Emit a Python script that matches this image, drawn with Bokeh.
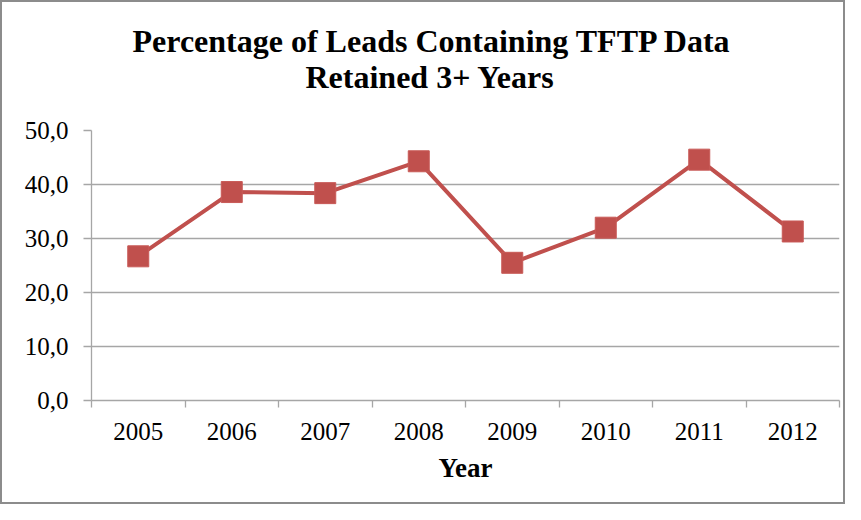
from bokeh.plotting import figure
from bokeh.models import Range1d, FixedTicker, CustomJSTickFormatter, ColumnDataSource, Title
from bokeh.embed import file_html
from bokeh.resources import INLINE

years = ["2005", "2006", "2007", "2008", "2009", "2010", "2011", "2012"]
values = [26.7, 38.6, 38.4, 44.3, 25.5, 32.0, 44.6, 31.3]
y_ticks = [0, 10, 20, 30, 40, 50]
title_lines = ["Percentage of Leads Containing TFTP Data", "Retained 3+ Years"]

xs = [i + 0.5 for i in range(len(years))]
src = ColumnDataSource(dict(x=xs, y=values, year=years))

FONT = "Liberation Serif"
GRAY = "#a6a6a6"
RED = "#C0504D"

p = figure(width=845, height=504, output_backend="svg", toolbar_location=None,
           x_range=Range1d(0, len(years)), y_range=Range1d(0, 50),
           min_border_left=89, min_border_right=8, min_border_top=128,
           min_border_bottom=106)
p.styles = {"border": "2px solid #8c8c8c"}

def style_title(t, offset):
    t.align = "left"
    t.offset = offset
    t.text_font = FONT
    t.text_font_size = "32px"
    t.text_font_style = "bold"
    t.text_color = "black"

# p.title is stacked farther from the frame than added titles
p.title.text = title_lines[0]
style_title(p.title, 41)
p.title.standoff = -76
t2 = Title(text=title_lines[1])
style_title(t2, 214)
t2.standoff = 72
p.add_layout(t2, "above")

p.outline_line_color = None
p.xgrid.grid_line_color = None
p.ygrid.grid_line_color = GRAY
p.ygrid.grid_line_width = 1.3

# x axis
xa = p.xaxis[0]
xa.ticker = FixedTicker(ticks=xs, minor_ticks=list(range(len(years) + 1)))
xa.formatter = CustomJSTickFormatter(args=dict(years=years),
                                     code="return years[Math.floor(tick)];")
xa.major_tick_line_color = None
xa.major_tick_in = 0
xa.major_tick_out = 0
xa.minor_tick_line_color = GRAY
xa.minor_tick_line_width = 1.3
xa.minor_tick_in = 0
xa.minor_tick_out = 7
xa.axis_line_color = GRAY
xa.axis_line_width = 1.3
xa.major_label_text_font = FONT
xa.major_label_text_font_size = "25px"
xa.major_label_text_color = "black"
xa.major_label_standoff = 15
xa.axis_label = "Year"
xa.axis_label_text_font = FONT
xa.axis_label_text_font_size = "27px"
xa.axis_label_text_font_style = "bold"
xa.axis_label_text_color = "black"
xa.axis_label_standoff = 10

# y axis
ya = p.yaxis[0]
ya.ticker = FixedTicker(ticks=y_ticks, minor_ticks=[])
ya.formatter = CustomJSTickFormatter(code="return tick.toFixed(1).replace('.', ',');")
ya.major_tick_line_color = GRAY
ya.major_tick_line_width = 1.3
ya.major_tick_in = 0
ya.major_tick_out = 8
ya.minor_tick_line_color = None
ya.axis_line_color = GRAY
ya.axis_line_width = 1.3
ya.major_label_text_font = FONT
ya.major_label_text_font_size = "25px"
ya.major_label_text_color = "black"
ya.major_label_standoff = 15

p.line("x", "y", source=src, line_color=RED, line_width=4)
p.scatter("x", "y", source=src, marker="square", size=21,
          fill_color=RED, line_color="#c85a57", line_width=1)

open("out.html", "w").write(file_html(p, INLINE))
